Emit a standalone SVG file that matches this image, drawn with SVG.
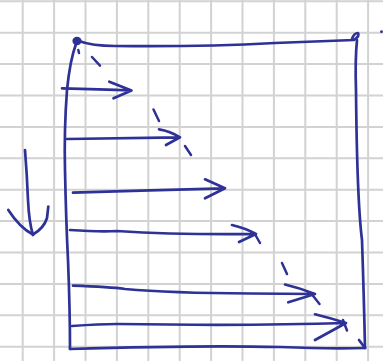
<svg xmlns="http://www.w3.org/2000/svg" width="383" height="361" viewBox="0 0 383 361">
<style>
.grid line{stroke:#d2d2d2;stroke-width:2}
.ink{fill:none;stroke:#2e3196;stroke-width:2.7;stroke-linecap:round;stroke-linejoin:round}
.dash{fill:none;stroke:#2e3196;stroke-width:2.5;stroke-linecap:round}
</style>
<rect width="383" height="361" fill="#ffffff"/>
<g class="grid" id="grid">
<line x1="22.7" y1="0" x2="22.7" y2="361"/><line x1="54.1" y1="0" x2="54.1" y2="361"/><line x1="85.5" y1="0" x2="85.5" y2="361"/><line x1="116.9" y1="0" x2="116.9" y2="361"/><line x1="148.3" y1="0" x2="148.3" y2="361"/><line x1="179.7" y1="0" x2="179.7" y2="361"/><line x1="211.1" y1="0" x2="211.1" y2="361"/><line x1="242.5" y1="0" x2="242.5" y2="361"/><line x1="273.9" y1="0" x2="273.9" y2="361"/><line x1="305.3" y1="0" x2="305.3" y2="361"/><line x1="336.7" y1="0" x2="336.7" y2="361"/><line x1="368.1" y1="0" x2="368.1" y2="361"/>
<line x1="0" y1="1.3" x2="383" y2="1.3"/><line x1="0" y1="32.7" x2="383" y2="32.7"/><line x1="0" y1="64.1" x2="383" y2="64.1"/><line x1="0" y1="95.5" x2="383" y2="95.5"/><line x1="0" y1="126.9" x2="383" y2="126.9"/><line x1="0" y1="158.3" x2="383" y2="158.3"/><line x1="0" y1="189.7" x2="383" y2="189.7"/><line x1="0" y1="221.1" x2="383" y2="221.1"/><line x1="0" y1="252.5" x2="383" y2="252.5"/><line x1="0" y1="283.9" x2="383" y2="283.9"/><line x1="0" y1="315.3" x2="383" y2="315.3"/><line x1="0" y1="346.7" x2="383" y2="346.7"/>
</g>
<g id="frame">
<path class="ink" d="M79,41 Q92,46 115,46 Q200,47 275,43 Q330,41 354,40 Q360,36 358,33 Q354,33 352,39"/>
<path class="ink" d="M357,40 Q355,60 356,90 Q357,200 362,240 Q364,300 365,348"/>
<path class="ink" d="M359,340 L365,348"/>
<path class="ink" d="M70,349 Q200,345 280,347 Q330,349 365,348"/>
<path class="ink" d="M76,44 Q70,60 67,90 Q64,130 65,170 Q66,220 68,260 Q70,310 70,349"/>
<ellipse cx="77" cy="41" rx="4.6" ry="4.2" fill="#2e3196"/>
<circle cx="381.5" cy="31.7" r="1.4" fill="#2e3196"/>
</g>
<g id="diagonal">
<path class="dash" d="M78.3,50 L79,53 M92,57 L100,65.7 M153.5,109.5 L159,121 M185,146 L191,155 M256,236 L260,243 M282,263 L287,274 M312,294.5 L319.5,304 M343,320 L347,330.5"/>
</g>
<g id="arrows">
<path class="ink" d="M62,88.3 Q100,89 131.5,90.5 M109.3,81.7 L131.5,90.5 L113.5,98.3"/>
<path class="ink" d="M67,139 Q120,138 180,137.3 M159,129.3 Q170,131 180,137.3 L166,145"/>
<path class="ink" d="M73,192.7 Q150,190 225,188.3 M205,179.3 L225,188.3 L205,198.3"/>
<path class="ink" d="M70,230 Q100,232 117,231 Q180,235 256,234 M232,225 Q245,228 256,234 L239,242"/>
<path class="ink" d="M73,285.7 Q110,287 125,289 Q170,293 250,293.5 L315,294 M285,284.5 Q300,288 315,294 L288.3,302.3"/>
<path class="ink" d="M72,326 Q100,324 117,324 Q250,326 346,323 M315,314.3 Q330,318 346,323 L315,340"/>
</g>
<g id="down-arrow">
<path class="ink" d="M25,150 Q27,175 28,200 Q29,222 33,235"/>
<path class="ink" d="M8.3,210 Q20,228 33,234.5 Q44,228 47,218 L48.3,206.7"/>
</g>
</svg>
